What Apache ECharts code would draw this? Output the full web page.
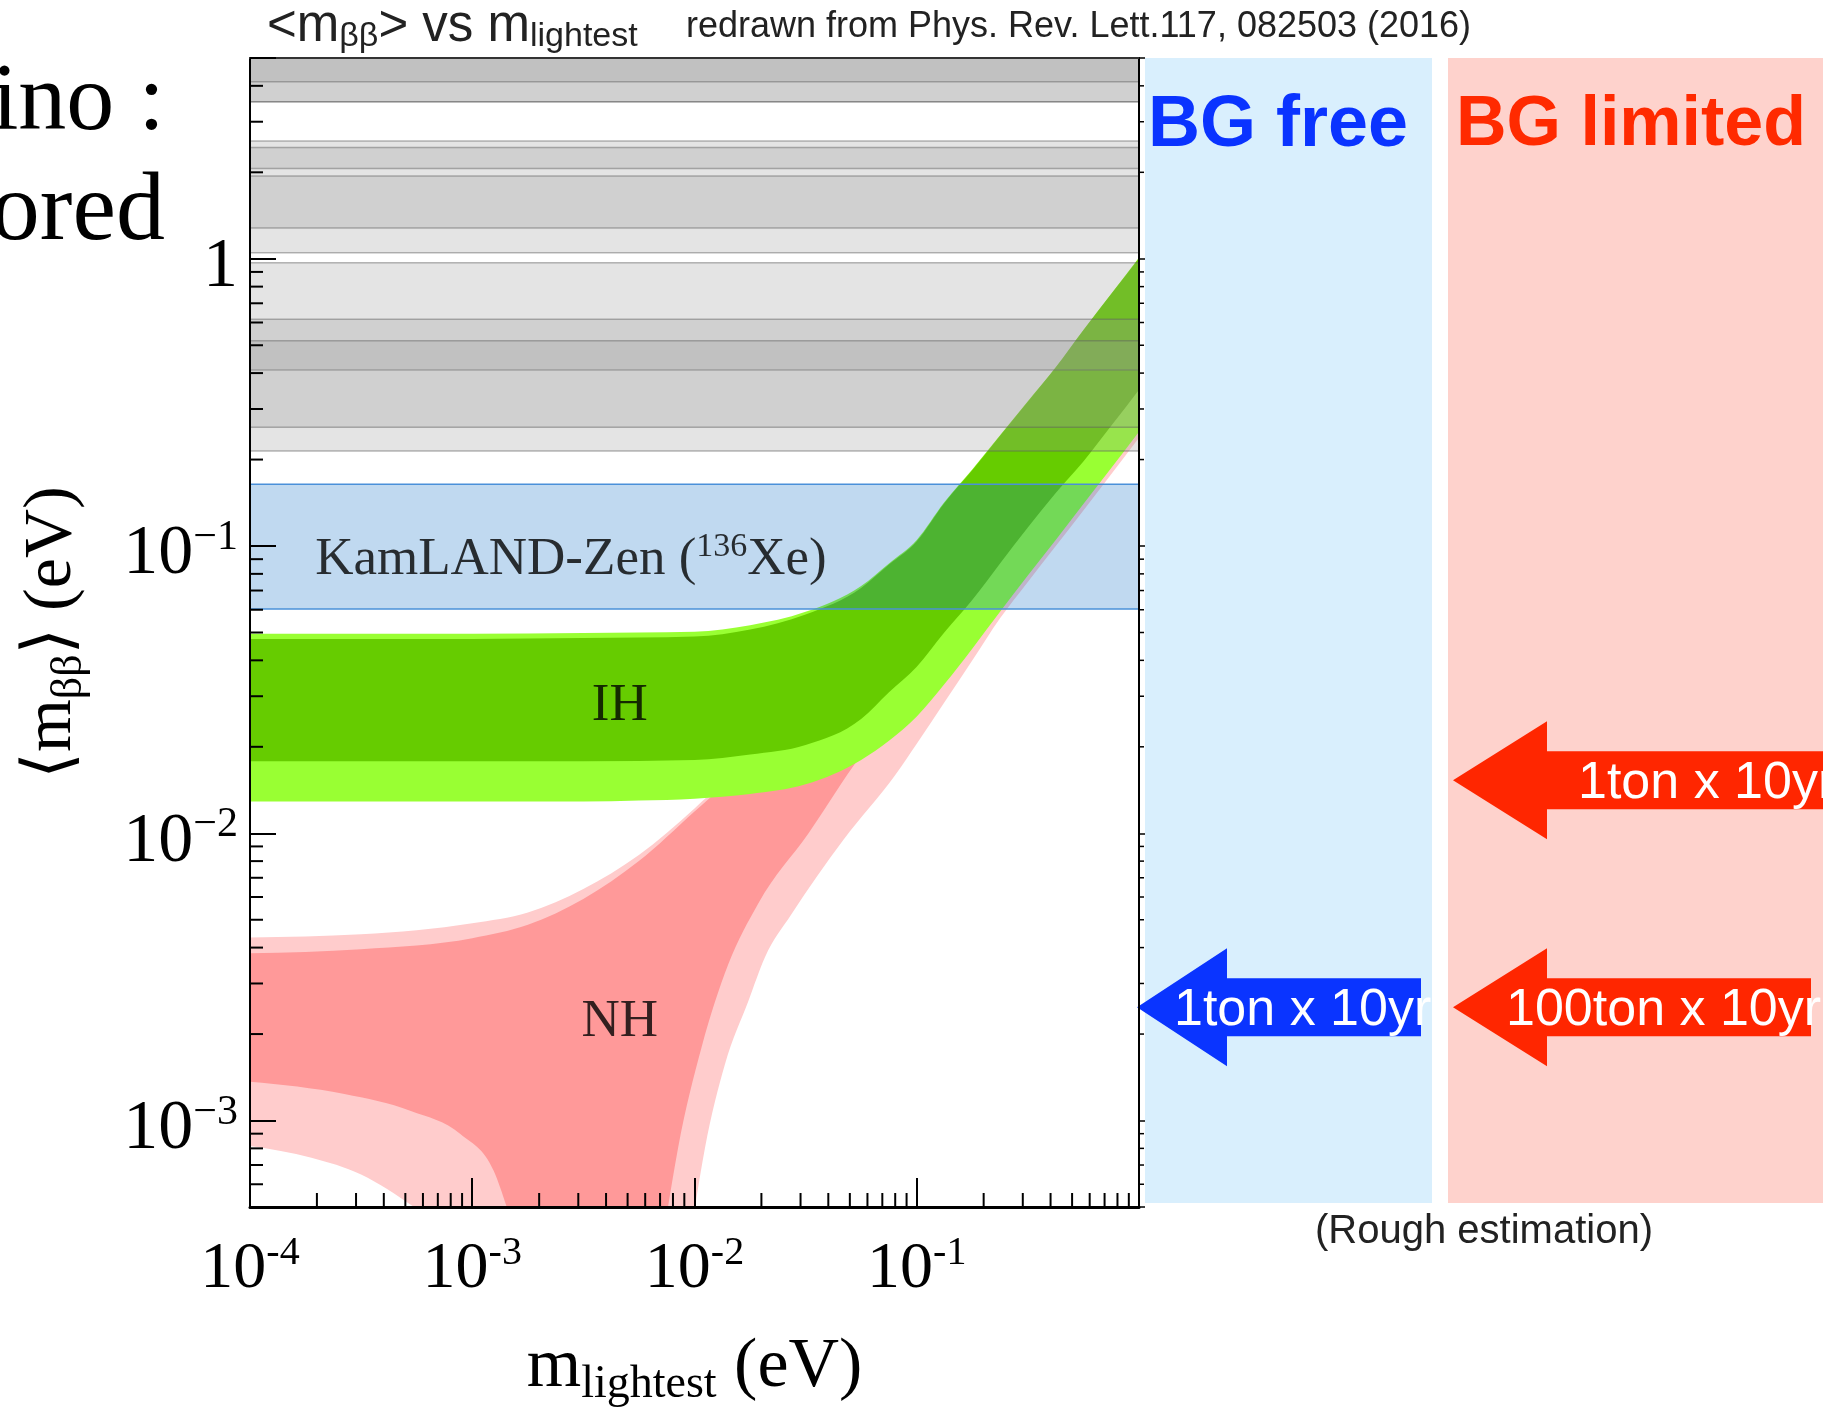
<!DOCTYPE html>
<html>
<head>
<meta charset="utf-8">
<title>mββ vs m_lightest</title>
<script src="https://cdn.jsdelivr.net/npm/echarts@6/dist/echarts.min.js"></script>
<style>
  html, body { margin: 0; padding: 0; background: #fff; }
  #chart { width: 1823px; height: 1410px; }
</style>
</head>
<body>
<div id="chart"></div>
<script>
const serif = "'Liberation Serif', 'DejaVu Serif', serif"
const sans = "'Liberation Sans', Arial, sans-serif"

// axis ranges (eV)
const xRange = [1e-4, 1]
const yRange = [5e-4, 5]
const xDecades = [1e-4, 1e-3, 1e-2, 1e-1]
const yDecades = [1e-3, 1e-2, 1e-1, 1]
const minorSteps = [2, 3, 4, 5, 6, 7, 8, 9]

// inverted hierarchy band edges: [m_lightest, <m_bb>]
const ihOuterTop = [[1e-4, 0.0495], [1e-3, 0.0495], [3.16e-3, 0.0498], [1e-2, 0.0503], [1.78e-2, 0.053], [3.16e-2, 0.059], [5.62e-2, 0.0726], [7.5e-2, 0.087], [0.1, 0.105], [0.133, 0.142], [0.178, 0.185], [0.237, 0.243], [0.316, 0.319], [0.422, 0.419], [0.562, 0.565], [0.75, 0.755], [1, 1.01]]
const ihOuterBottom = [[1e-4, 0.0129], [1e-3, 0.0129], [3.16e-3, 0.0129], [5.62e-3, 0.013], [1e-2, 0.0132], [1.78e-2, 0.0137], [3.16e-2, 0.0148], [5.62e-2, 0.018], [7.5e-2, 0.021], [0.1, 0.0255], [0.133, 0.033], [0.178, 0.044], [0.237, 0.059], [0.316, 0.079], [0.422, 0.105], [0.562, 0.14], [0.75, 0.187], [1, 0.25]]
const ihInnerTop = [[1e-4, 0.0475], [1e-3, 0.0475], [3.16e-3, 0.0478], [1e-2, 0.0484], [1.78e-2, 0.0512], [3.16e-2, 0.0578], [5.62e-2, 0.0715], [7.5e-2, 0.0862], [0.1, 0.104], [0.133, 0.141], [0.178, 0.184], [0.237, 0.242], [0.316, 0.318], [0.422, 0.418], [0.562, 0.564], [0.75, 0.754], [1, 1.005]]
const ihInnerBottom = [[1e-4, 0.0178], [1e-3, 0.0178], [3.16e-3, 0.0178], [1e-2, 0.018], [1.78e-2, 0.0188], [3.16e-2, 0.0203], [5.62e-2, 0.025], [7.5e-2, 0.031], [0.1, 0.038], [0.133, 0.05], [0.178, 0.065], [0.237, 0.087], [0.316, 0.116], [0.422, 0.153], [0.562, 0.197], [0.75, 0.262], [1, 0.35]]

// normal hierarchy band edges (lower edges drop to zero in the cancellation region)
const nhOuterTop = [[1e-4, 0.00434], [3.16e-4, 0.00445], [1e-3, 0.00486], [1.78e-3, 0.0053], [3.16e-3, 0.0064], [5.62e-3, 0.0084], [1e-2, 0.0122], [1.78e-2, 0.019], [3.16e-2, 0.033], [5.62e-2, 0.057], [0.1, 0.098], [0.178, 0.17], [0.316, 0.3], [0.562, 0.53], [1, 0.95]]
const nhOuterBottom = [[1e-4, 0.000815], [1.89e-4, 0.000742], [3.16e-4, 0.000649], [5.47e-4, 0.0005], [6e-4, 1e-5], [9.5e-3, 1e-5], [1.005e-2, 0.0005], [1.114e-2, 0.0008], [1.371e-2, 0.00157], [1.746e-2, 0.0026], [2.075e-2, 0.0037], [2.72e-2, 0.0052], [4.68e-2, 0.0095], [8.02e-2, 0.016], [0.1, 0.0205], [0.133, 0.0285], [0.178, 0.04], [0.237, 0.056], [0.316, 0.075], [0.562, 0.133], [1, 0.238]]
const nhInnerTop = [[1e-4, 0.00382], [3.16e-4, 0.00395], [1e-3, 0.00431], [1.78e-3, 0.0048], [3.16e-3, 0.0059], [5.62e-3, 0.008], [1e-2, 0.0119], [1.78e-2, 0.018], [3.16e-2, 0.031], [5.62e-2, 0.054], [0.1, 0.094], [0.178, 0.165], [0.316, 0.29], [0.562, 0.52], [1, 0.93]]
const nhInnerBottom = [[1e-4, 0.001364], [2.66e-4, 0.001236], [5.29e-4, 0.00108], [8.87e-4, 0.000896], [1.25e-3, 0.000667], [1.43e-3, 0.0005], [1.6e-3, 1e-5], [6.9e-3, 1e-5], [7.6e-3, 0.0005], [8.43e-3, 0.0008], [1.076e-2, 0.0018], [1.419e-2, 0.0035], [1.936e-2, 0.0057], [3.26e-2, 0.01], [5.6e-2, 0.0186], [0.1, 0.031], [0.178, 0.055], [0.316, 0.098], [0.562, 0.175], [1, 0.31]]

// excluded regions from other experiments, lower and upper limits (eV)
const limitLo = [3.52, 3.52, 4.13, 1.05, 2.06, 1.28, 0.214, 0.41, 0.259]
const limitHi = [8, 8, 8, 2.57, 2.44, 1.94, 0.968, 0.616, 0.518]
const kamlandLimit = [0.0604, 0.164]

// sensitivity reach of future detectors (eV)
const bgFreeReach = [0.00248]
const bgLimitedReach = [0.0153, 0.00248]
const bgFreeNames = ['1ton x 10yr']
const bgLimitedNames = ['1ton x 10yr', '100ton x 10yr']

const labelPoints = [
  { name: '{t|KamLAND-Zen (}{s|136}{t|Xe)}', value: [2.78e-3, 0.0893] },
  { name: '{t|IH}', value: [4.61e-3, 0.0277] },
  { name: '{t|NH}', value: [4.61e-3, 0.00221] }
]

const xMinor = xDecades.flatMap(d => minorSteps.map(k => k * d))
const yMinor = [1e-4, ...yDecades].flatMap(d => minorSteps.map(k => k * d))
  .filter(v => v > yRange[0] * 1.001 && v < yRange[1] * 0.999)

const isDecade = v => Math.abs(Math.log10(v) - Math.round(Math.log10(v))) < 1e-6
const clampY = (cs, y) => Math.min(Math.max(y, cs.y), cs.y + cs.height)

// monotone cubic through pixel points (x increasing), as bezier segments
const monoSegments = pts => {
  const n = pts.length
  if (n < 2) return []
  const h = []
  const s = []
  for (let i = 0; i < n - 1; i++) {
    h[i] = pts[i + 1][0] - pts[i][0]
    s[i] = (pts[i + 1][1] - pts[i][1]) / h[i]
  }
  const t = new Array(n)
  for (let i = 1; i < n - 1; i++) {
    const p = (s[i - 1] * h[i] + s[i] * h[i - 1]) / (h[i - 1] + h[i])
    t[i] = (Math.sign(s[i - 1]) + Math.sign(s[i])) * Math.min(Math.abs(s[i - 1]), Math.abs(s[i]), 0.5 * Math.abs(p)) || 0
  }
  if (n === 2) {
    t[0] = s[0]
    t[1] = s[0]
  } else {
    t[0] = (3 * s[0] - t[1]) / 2
    t[n - 1] = (3 * s[n - 2] - t[n - 2]) / 2
  }
  const segs = []
  for (let i = 0; i < n - 1; i++) {
    const dx = h[i] / 3
    segs.push([[pts[i][0] + dx, pts[i][1] + t[i] * dx], [pts[i + 1][0] - dx, pts[i + 1][1] - t[i + 1] * dx], pts[i + 1]])
  }
  return segs
}

// split an edge into the pieces that lie inside the plot (dips below the axis are dropped)
const visibleRuns = (pts, bottom) => {
  const runs = []
  let cur = []
  for (const p of pts) {
    if (p[1] <= bottom + 0.5) cur.push(p)
    else if (cur.length) {
      runs.push(cur)
      cur = []
    }
  }
  if (cur.length) runs.push(cur)
  return runs
}

const bandSeries = (name, top, bottom, color) => ({
  type: 'custom',
  name,
  silent: true,
  clip: true,
  data: [[1e-2, 1e-2]],
  renderItem: (params, api) => {
    const cs = params.coordSys
    const yb = cs.y + cs.height
    const topPts = top.map(d => api.coord(d))
    const botPts = bottom.map(d => api.coord(d))
    let d = 'M' + topPts[0]
    for (const sg of monoSegments(topPts)) d += ' C' + sg[0] + ' ' + sg[1] + ' ' + sg[2]
    const runs = visibleRuns(botPts, yb)
    for (let r = runs.length - 1; r >= 0; r--) {
      const run = runs[r].map(p => [p[0], Math.min(p[1], yb)])
      d += ' L' + run[run.length - 1]
      const segs = monoSegments(run)
      for (let k = segs.length - 1; k >= 0; k--) {
        const start = k === 0 ? run[0] : segs[k - 1][2]
        d += ' C' + segs[k][1] + ' ' + segs[k][0] + ' ' + start
      }
    }
    d += ' Z'
    return { type: 'path', shape: { pathData: d }, style: { fill: color } }
  }
})

const limitSeries = (data, fill, stroke) => ({
  type: 'custom',
  silent: true,
  clip: true,
  data,
  encode: { x: 0, y: 1 },
  renderItem: (params, api) => {
    const cs = params.coordSys
    const yLo = api.coord([api.value(0), api.value(1)])[1]
    const yHi = api.coord([api.value(0), api.value(2)])[1]
    const top = clampY(cs, yHi)
    const bot = clampY(cs, yLo)
    const children = [{ type: 'rect', shape: { x: cs.x, y: top, width: cs.width, height: bot - top }, style: { fill } }]
    for (const y of [yHi, yLo]) {
      if (y > cs.y && y < cs.y + cs.height) {
        children.push({ type: 'line', shape: { x1: cs.x, y1: y, x2: cs.x + cs.width, y2: y }, style: { stroke, lineWidth: 1.5 } })
      }
    }
    return { type: 'group', children }
  }
})

const chart = echarts.init(document.getElementById('chart'))

chart.setOption({
  animation: false,
  backgroundColor: '#fff',
  grid: { left: 250, top: 58, width: 889, height: 1149, outerBoundsMode: 'none' },
  xAxis: [
    {
      type: 'log',
      min: xRange[0],
      max: xRange[1],
      z: 10,
      axisLine: { lineStyle: { color: '#000', width: 3 } },
      axisTick: { inside: true, length: 29, lineStyle: { color: '#000', width: 2 } },
      splitLine: { show: false },
      axisLabel: {
        margin: 26,
        formatter: v => (isDecade(v) && v < 0.5 ? '{b|10}{s|-' + (-Math.round(Math.log10(v))) + '}' : ''),
        rich: {
          b: { fontFamily: serif, fontSize: 66, lineHeight: 74, color: '#000' },
          s: { fontFamily: serif, fontSize: 40, lineHeight: 30, verticalAlign: 'top', color: '#000' }
        }
      },
      name: '{m|m}{sub|lightest}{m| (eV)}',
      nameLocation: 'middle',
      nameGap: 121,
      nameTextStyle: {
        rich: {
          m: { fontFamily: serif, fontSize: 70, lineHeight: 80, color: '#000' },
          sub: { fontFamily: serif, fontSize: 46, lineHeight: 30, verticalAlign: 'bottom', color: '#000' }
        }
      }
    },
    {
      type: 'log',
      position: 'top',
      min: xRange[0],
      max: xRange[1],
      z: 10,
      axisLine: { lineStyle: { color: '#333', width: 2 } },
      axisTick: { show: false },
      axisLabel: { show: false },
      splitLine: { show: false }
    }
  ],
  yAxis: [
    {
      type: 'log',
      min: yRange[0],
      max: yRange[1],
      z: 10,
      axisLine: { lineStyle: { color: '#000', width: 2 } },
      axisTick: { inside: true, length: 26, lineStyle: { color: '#000', width: 2 } },
      splitLine: { show: false },
      axisLabel: {
        margin: 12,
        padding: [18, 0, 0, 0],
        formatter: v => {
          if (!isDecade(v)) return ''
          const e = Math.round(Math.log10(v))
          return e === 0 ? '{b|1}' : '{b|10}{s|\u2212' + (-e) + '}'
        },
        rich: {
          b: { fontFamily: serif, fontSize: 70, lineHeight: 76, color: '#000' },
          s: { fontFamily: serif, fontSize: 42, lineHeight: 34, verticalAlign: 'top', color: '#000' }
        }
      },
      name: '{m|\u27e8m}{sub|\u03b2\u03b2}{m|\u27e9 (eV)}',
      nameLocation: 'middle',
      nameRotate: 90,
      nameGap: 159,
      nameTextStyle: {
        rich: {
          m: { fontFamily: serif, fontSize: 68, lineHeight: 78, color: '#000' },
          sub: { fontFamily: serif, fontSize: 44, lineHeight: 40, verticalAlign: 'bottom', color: '#000' }
        }
      }
    },
    {
      type: 'log',
      position: 'right',
      min: yRange[0],
      max: yRange[1],
      z: 10,
      axisLine: { lineStyle: { color: '#000', width: 2 } },
      axisTick: { inside: false, length: 6, lineStyle: { color: '#000', width: 1.5 } },
      axisLabel: { show: false },
      splitLine: { show: false }
    }
  ],
  series: [
    bandSeries('NH 3σ', nhOuterTop, nhOuterBottom, '#ffcccc'),
    bandSeries('NH 1σ', nhInnerTop, nhInnerBottom, '#ff9999'),
    bandSeries('IH 3σ', ihOuterTop, ihOuterBottom, '#99ff33'),
    bandSeries('IH 1σ', ihInnerTop, ihInnerBottom, '#66cc00'),
    limitSeries(limitLo.map((lo, i) => [xRange[0], lo, limitHi[i]]), 'rgba(150,150,150,0.26)', 'rgba(95,95,95,0.45)'),
    limitSeries([[xRange[0], kamlandLimit[0], kamlandLimit[1]]], 'rgba(3,103,195,0.25)', '#4a90d9'),
    {
      type: 'scatter',
      silent: true,
      z: 6,
      symbolSize: 1,
      itemStyle: { color: 'rgba(0,0,0,0)' },
      data: labelPoints,
      label: {
        show: true,
        position: 'inside',
        formatter: p => p.name,
        rich: {
          t: { fontFamily: serif, fontSize: 53, lineHeight: 60, color: '#000' },
          s: { fontFamily: serif, fontSize: 34, lineHeight: 30, verticalAlign: 'top', color: '#000' }
        }
      }
    },
    {
      type: 'custom',
      silent: true,
      clip: false,
      z: 10,
      data: yMinor.map(v => [xRange[0], v]),
      renderItem: (params, api) => {
        const cs = params.coordSys
        const y = api.coord([api.value(0), api.value(1)])[1]
        return {
          type: 'group',
          children: [
            { type: 'line', shape: { x1: cs.x, y1: y, x2: cs.x + 13, y2: y }, style: { stroke: '#000', lineWidth: 2 } },
            { type: 'line', shape: { x1: cs.x + cs.width, y1: y, x2: cs.x + cs.width + 5, y2: y }, style: { stroke: '#000', lineWidth: 1.5 } }
          ]
        }
      }
    },
    {
      type: 'custom',
      silent: true,
      clip: false,
      z: 10,
      data: xMinor.map(v => [v, yRange[0]]),
      renderItem: (params, api) => {
        const cs = params.coordSys
        const x = api.coord([api.value(0), api.value(1)])[0]
        const yb = cs.y + cs.height
        return { type: 'line', shape: { x1: x, y1: yb, x2: x, y2: yb - 14 }, style: { stroke: '#000', lineWidth: 2 } }
      }
    }
  ]
})

// panels, arrows and notes next to the plot
const arrow = (tipX, headX, endX, y, fill) => ({
  type: 'polygon',
  silent: true,
  shape: { points: [[tipX, y], [headX, y - 59], [headX, y - 29], [endX, y - 29], [endX, y + 29], [headX, y + 29], [headX, y + 59]] },
  style: { fill }
})
const note = (x, y, text, size, fill, extra) => ({
  type: 'text',
  silent: true,
  x,
  y,
  style: Object.assign({ text, fontFamily: sans, fontSize: size, fill, align: 'left', verticalAlign: 'middle', textAlign: 'left', textVerticalAlign: 'middle' }, extra || {})
})

const toY = v => chart.convertToPixel({ yAxisIndex: 0 }, v)
const graphics = [
  { type: 'rect', silent: true, shape: { x: 1145, y: 58, width: 287, height: 1145 }, style: { fill: '#d9effd' } },
  { type: 'rect', silent: true, shape: { x: 1448, y: 58, width: 380, height: 1145 }, style: { fill: '#fed2cc' } },
  note(1148, 126, 'BG free', 72, '#0a33ff', { fontWeight: 'bold' }),
  note(1456, 126, 'BG limited', 70, '#ff2a00', { fontWeight: 'bold' }),
  note(1484, 1232, '(Rough estimation)', 40, '#222', { align: 'center', textAlign: 'center' }),
  note(686, 27, 'redrawn from Phys. Rev. Lett.117, 082503 (2016)', 36, '#222'),
  {
    type: 'text',
    silent: true,
    x: 267,
    y: 27,
    style: {
      text: '{t|<m}{u|\u03b2\u03b2}{t|> vs m}{u|lightest}',
      align: 'left',
      verticalAlign: 'middle',
      textAlign: 'left',
      textVerticalAlign: 'middle',
      rich: {
        t: { fontFamily: sans, fontSize: 51, lineHeight: 54, fill: '#222' },
        u: { fontFamily: sans, fontSize: 34, lineHeight: 36, verticalAlign: 'bottom', fill: '#222' }
      }
    }
  },
  note(165, 104, 'ino :', 96, '#000', { fontFamily: serif, align: 'right', textAlign: 'right' }),
  note(165, 213, 'ored', 98, '#000', { fontFamily: serif, align: 'right', textAlign: 'right' })
]
bgFreeReach.forEach((v, i) => {
  const y = toY(v)
  graphics.push(arrow(1137, 1227, 1421, y, '#0a34ff'))
  graphics.push(note(1174, y + 3, bgFreeNames[i], 52, '#fff'))
})
bgLimitedReach.forEach((v, i) => {
  const y = toY(v)
  const end = i === 0 ? 1830 : 1811
  graphics.push(arrow(1453, 1547, end, y, '#ff2600'))
  graphics.push(note(i === 0 ? 1578 : 1506, y + 3, bgLimitedNames[i], 52, '#fff'))
})

chart.setOption({ graphic: graphics })
</script>
</body>
</html>
